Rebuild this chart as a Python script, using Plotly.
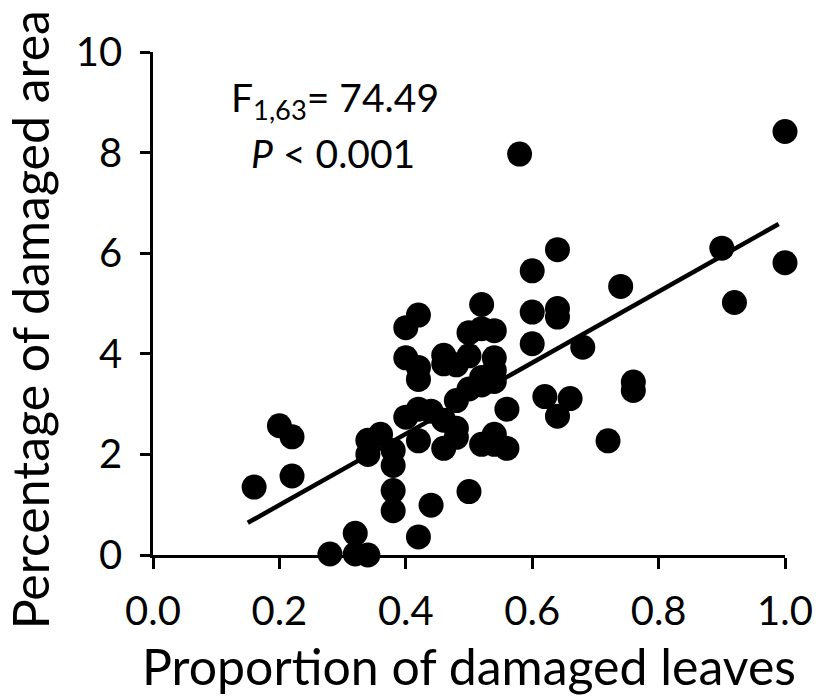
import plotly.graph_objects as go

# Proportion of damaged leaves (x) and percentage of damaged area (y)
prop_leaves = [
    0.16, 0.20, 0.22, 0.22, 0.28, 0.32, 0.32, 0.34, 0.34, 0.36,
    0.34, 0.38, 0.38, 0.38, 0.38, 0.42, 0.44, 0.50, 0.40, 0.42,
    0.40, 0.42, 0.42, 0.40, 0.42, 0.42, 0.44, 0.46, 0.46, 0.48,
    0.48, 0.46, 0.46, 0.48, 0.50, 0.50, 0.52, 0.52, 0.54, 0.54,
    0.54, 0.52, 0.50, 0.48, 0.54, 0.52, 0.56, 0.52, 0.54, 0.54,
    0.56, 0.60, 0.60, 0.60, 0.64, 0.64, 0.64, 0.68, 0.62, 0.66,
    0.64, 0.72, 0.74, 0.76, 0.76, 0.58, 0.90, 0.92, 1.00, 1.00,
]
pct_area = [
    1.35, 2.57, 2.35, 1.57, 0.02, 0.43, 0.02, 0.00, 2.28, 2.40,
    2.00, 2.08, 1.78, 1.28, 0.88, 0.36, 0.99, 1.26, 4.52, 4.77,
    3.92, 3.73, 3.49, 2.74, 2.90, 2.27, 2.86, 2.68, 2.12, 2.52,
    2.34, 3.97, 3.80, 3.78, 3.96, 4.42, 4.98, 4.50, 4.46, 3.92,
    3.67, 3.53, 3.30, 3.07, 3.45, 3.38, 2.90, 2.20, 2.40, 2.20,
    2.12, 5.65, 4.83, 4.20, 6.07, 4.90, 4.73, 4.13, 3.15, 3.11,
    2.76, 2.27, 5.34, 3.44, 3.27, 7.97, 6.10, 5.02, 8.42, 5.81,
]

# Regression line end points
fit_x = [0.15, 0.99]
fit_y = [0.64, 6.58]

x_ticks = [0.0, 0.2, 0.4, 0.6, 0.8, 1.0]
x_tick_labels = ["0.0", "0.2", "0.4", "0.6", "0.8", "1.0"]
y_ticks = [0, 2, 4, 6, 8, 10]

FONT = "Lato, 'Open Sans', sans-serif"

fig = go.Figure()
fig.add_trace(go.Scatter(
    x=prop_leaves, y=pct_area, mode="markers",
    marker=dict(size=25, color="black", line=dict(width=0)),
    cliponaxis=False, showlegend=False, hoverinfo="x+y",
))
fig.add_trace(go.Scatter(
    x=fit_x, y=fit_y, mode="lines",
    line=dict(color="black", width=4.5),
    cliponaxis=False, showlegend=False, hoverinfo="skip",
))

fig.add_annotation(x=0.288, y=9.05, xref="x", yref="y",
                   text="F<sub>1,63</sub>= 74.49", showarrow=False,
                   font=dict(family=FONT, size=39, color="black"))
fig.add_annotation(x=0.285, y=8.0, xref="x", yref="y",
                   text="<i>P</i> &lt; 0.001", showarrow=False,
                   font=dict(family=FONT, size=39, color="black"))

# y-axis title placed as rotated text (slightly below plot centre, as in the original)
fig.add_annotation(x=-0.195, y=0.468, xref="paper", yref="paper",
                   text="Percentage of damaged area", textangle=-90,
                   showarrow=False, xanchor="center", yanchor="middle",
                   font=dict(family=FONT, size=50, color="black"))

fig.update_layout(
    width=821, height=696,
    margin=dict(l=153, r=36, t=52, b=141, autoexpand=False),
    plot_bgcolor="white", paper_bgcolor="white",
    font=dict(family=FONT, size=40, color="black"),
    xaxis=dict(
        range=[0, 1], tickvals=x_ticks, ticktext=x_tick_labels,
        automargin=False,
        showgrid=False, zeroline=False, showline=True,
        linecolor="black", linewidth=2.5,
        ticks="outside", ticklen=11, tickwidth=2.5, tickcolor="black",
        tickfont=dict(family=FONT, size=40, color="black"),
        ticklabelstandoff=8,
        title=dict(text="Proportion of damaged leaves",
                   font=dict(family=FONT, size=50, color="black"),
                   standoff=20),
    ),
    yaxis=dict(
        range=[0, 10], tickvals=y_ticks,
        automargin=False,
        showgrid=False, zeroline=False, showline=True,
        linecolor="black", linewidth=2.5,
        ticks="outside", ticklen=10, tickwidth=2.5, tickcolor="black",
        tickfont=dict(family=FONT, size=40, color="black"),
        ticklabelstandoff=10,
    ),
)

fig.write_html("out.html")
